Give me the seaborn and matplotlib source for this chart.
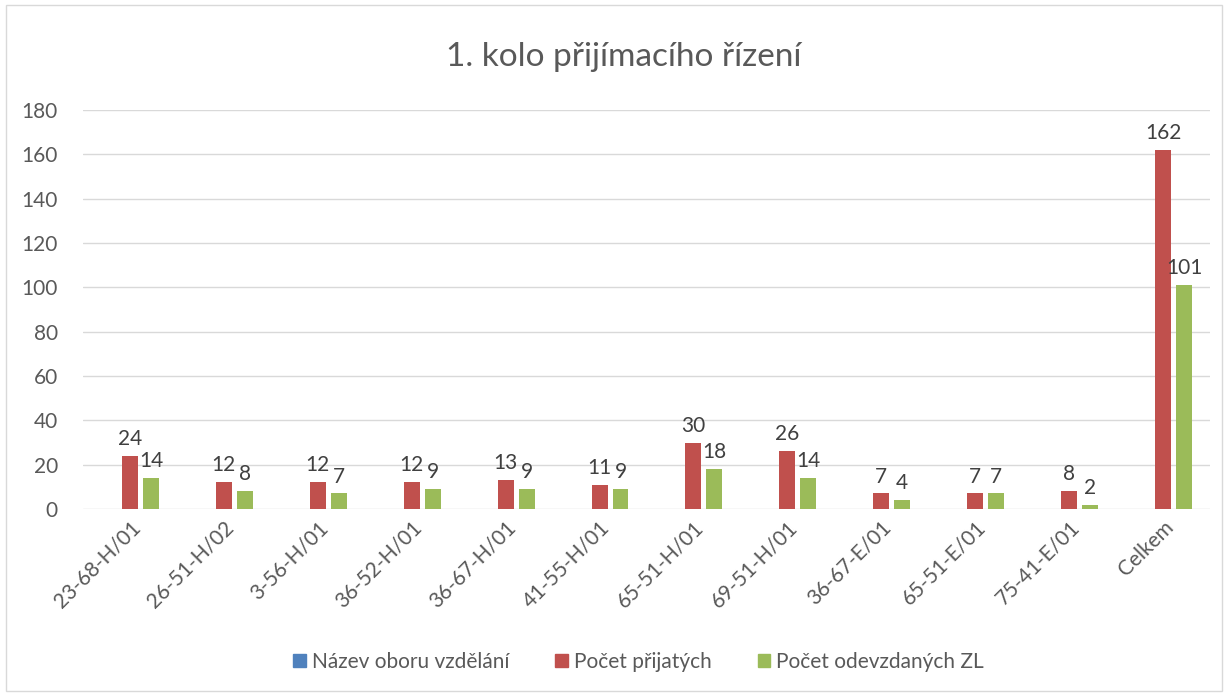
import numpy as np
import pandas as pd
import matplotlib.pyplot as plt
import seaborn as sns
from matplotlib.patches import Rectangle

obory = ["23-68-H/01", "26-51-H/02", "3-56-H/01", "36-52-H/01", "36-67-H/01", "41-55-H/01",
         "65-51-H/01", "69-51-H/01", "36-67-E/01", "65-51-E/01", "75-41-E/01", "Celkem"]
nazev = [0] * 12
prijati = [24, 12, 12, 12, 13, 11, 30, 26, 7, 7, 8, 162]
odevzdane = [14, 8, 7, 9, 9, 9, 18, 14, 4, 7, 2, 101]
serie = ["Název oboru vzdělání", "Počet přijatých", "Počet odevzdaných ZL"]
barvy = ["#4F81BD", "#C0504D", "#9BBB59"]

df = pd.DataFrame({
    "obor": obory * 3,
    "serie": [serie[0]] * 12 + [serie[1]] * 12 + [serie[2]] * 12,
    "hodnota": nazev + prijati + odevzdane,
})

sns.set_style("white")
plt.rcParams["font.family"] = ["Lato", "DejaVu Sans"]
txt = "#595959"

fig = plt.figure(figsize=(12.28, 6.95), dpi=100)
ax = fig.add_axes([83 / 1228, 1 - 509 / 695, (1210 - 83) / 1228, (509 - 110) / 695])

sns.barplot(data=df, x="obor", y="hodnota", hue="serie", hue_order=serie,
            palette=barvy, width=0.67, gap=0.24, ax=ax, legend=True,
            edgecolor="none", saturation=1)

for cont in ax.containers[1:]:
    ax.bar_label(cont, padding=5, fontsize=15, color="#404040")

ax.set_ylim(0, 180)
ax.set_yticks(np.arange(0, 181, 20))
ax.yaxis.grid(True, color="#d9d9d9", linewidth=1)
ax.set_axisbelow(True)
for s in ax.spines.values():
    s.set_visible(False)
ax.tick_params(axis="both", length=0, labelsize=15, labelcolor=txt)
ax.tick_params(axis="y", pad=18)
ax.tick_params(axis="x", pad=6)
plt.setp(ax.get_xticklabels(), rotation=45, ha="right", rotation_mode="anchor")
ax.set_xlabel("")
ax.set_ylabel("")

ax.legend_.remove()
handles = [Rectangle((0, 0), 1, 1, color=c) for c in barvy]
fig.legend(handles, serie, loc="center", bbox_to_anchor=(0.52, 1 - 662 / 695), ncol=3,
           frameon=False, fontsize=15, labelcolor=txt, handlelength=0.6, handleheight=0.6,
           handletextpad=0.3, columnspacing=2.2)

fig.text(0.508, 1 - 57 / 695, "1. kolo přijímacího řízení", ha="center", va="center",
         fontsize=24, color=txt)

fig.patches.append(Rectangle((6 / 1228, 4 / 695), 1216 / 1228, 686 / 695, transform=fig.transFigure,
                             fill=False, edgecolor="#d9d9d9", linewidth=1))

fig.savefig("out.png", dpi=100)
